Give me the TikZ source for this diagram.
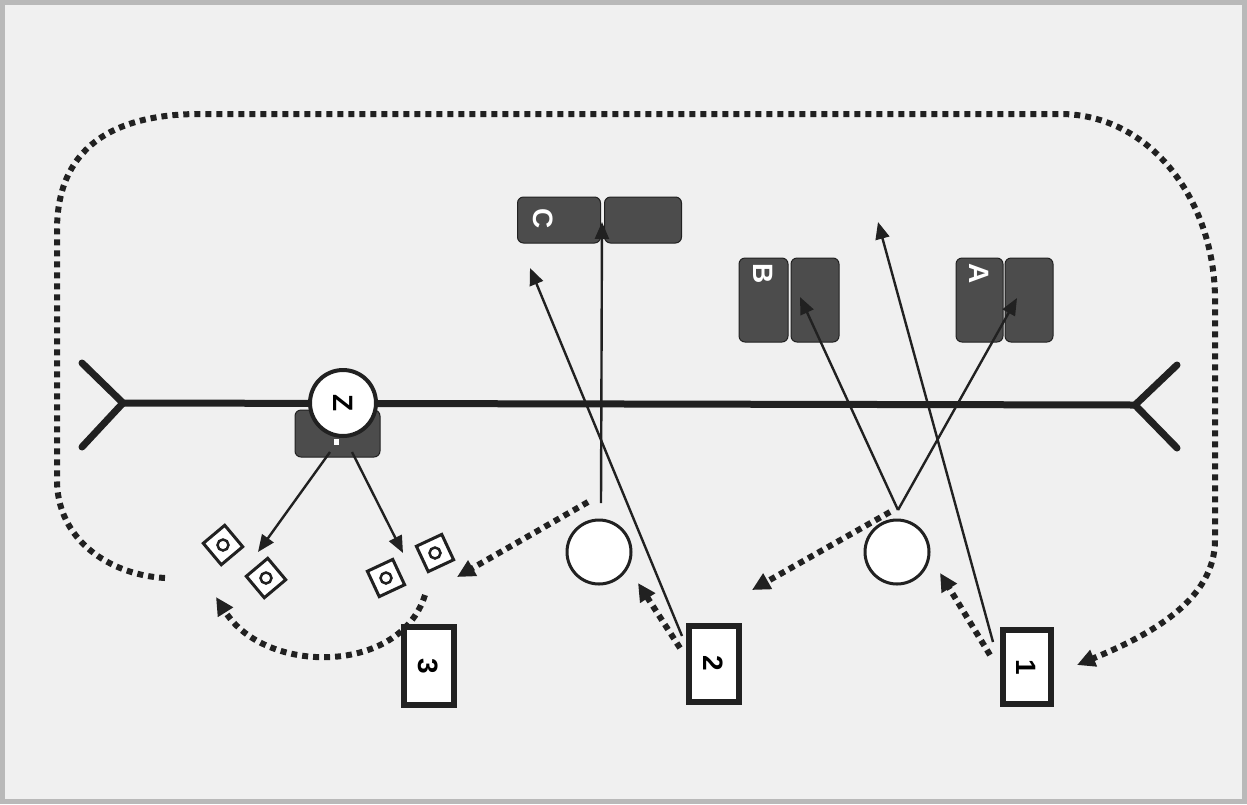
\documentclass[tikz,border=0pt]{standalone}
\usepackage{fontspec}
\setmainfont{Liberation Sans}
\usetikzlibrary{arrows.meta,calc}
\definecolor{ink}{gray}{0.13}
\definecolor{paper}{gray}{0.94}
\definecolor{darkfill}{gray}{0.30}
\begin{document}
\begin{tikzpicture}[x=1pt,y=-1pt,
  lab/.style={font=\fontsize{28}{28}\selectfont\bfseries, inner sep=0pt, rotate=-90},
  darkbox/.style={fill=darkfill, draw=ink, line width=1pt, rounded corners=6pt, inner sep=0pt},
  numbox/.style={draw=ink, line width=6pt, fill=white, minimum width=46pt, minimum height=72pt, inner sep=0pt},
  ring/.style={circle, draw=ink, line width=3pt, fill=white, minimum size=64pt, inner sep=0pt},
  tile/.style={draw=ink, line width=3pt, fill=white, minimum size=28pt, inner sep=0pt},
  tilering/.style={circle, draw=ink, line width=2.5pt, minimum size=11pt, inner sep=0pt},
  axis/.style={draw=ink, line width=7pt, line cap=round},
  solidarrow/.style={draw=ink, line width=2.4pt, -{Triangle[length=17pt,width=14pt]}},
  dotarrow/.style={draw=ink, line width=6pt, dash pattern=on 6pt off 5pt, -{Triangle[length=18pt,width=17pt]}},
]
% background and frame
\fill[paper] (0,0) rectangle (1247,804);
\draw[gray!55, line width=5pt] (2.5,2.5) rectangle (1244.5,801.5);

% big dotted loop
\coordinate (loopS) at (165,578);
\coordinate (loopE) at (1077,665);
\draw[dotarrow] (loopS) .. controls (110,575) and (57,540) .. (57,480)
  -- (57,230) .. controls (57,150) and (110,114) .. (200,114)
  -- (1060,114) .. controls (1150,114) and (1215,200) .. (1215,300)
  -- (1215,540) .. controls (1215,600) and (1150,635) .. (loopE);

% main axis with forks
\coordinate (fL) at (123,403);
\coordinate (fR) at (1135,405);
\coordinate (fLt) at (82,363);
\coordinate (fLb) at (82,447);
\coordinate (fRt) at (1177,365);
\coordinate (fRb) at (1177,448);
\draw[axis] (fL) -- (fR);
\draw[axis] (fLt) -- (fL) -- (fLb);
\draw[axis] (fRt) -- (fR) -- (fRb);

% dark boxes
\node[darkbox, minimum width=83pt, minimum height=46pt] (Cl) at (559,220) {};
\node[darkbox, minimum width=77pt, minimum height=46pt] (Cr) at (643,220) {};
\node[darkbox, minimum width=49pt, minimum height=84pt] (Bl) at (763.5,300) {};
\node[darkbox, minimum width=48pt, minimum height=84pt] (Br) at (815,300) {};
\node[darkbox, minimum width=47pt, minimum height=84pt] (Al) at (979.5,300) {};
\node[darkbox, minimum width=48pt, minimum height=84pt] (Ar) at (1029,300) {};
\node[lab, white] (Clab) at (543,219) {C};
\node[lab, white] (Blab) at (763,274) {B};
\node[lab, white] (Alab) at (979,274) {A};

% Z with its box
\node[darkbox, minimum width=85pt, minimum height=47pt] (Zbox) at (337.5,433.5) {};
\node[fill=white, minimum width=5pt, minimum height=6pt, inner sep=0pt] (Zmark) at (336,442) {};
\node[ring, line width=4pt, minimum size=66pt] (Z) at (343,403) {};
\node[lab] (Zlab) at (Z.center) {Z};

% circles
\node[ring] (c1) at (897,552) {};
\node[ring] (c2) at (599,552) {};

% numbered boxes
\node[numbox, minimum width=48pt, minimum height=74pt] (b1) at (1026.5,667) {};
\node[numbox, minimum width=50pt, minimum height=76pt] (b2) at (713.5,663.5) {};
\node[numbox, minimum width=50pt, minimum height=78pt] (b3) at (428.5,666) {};
\node[lab] (l1) at (b1.center) {1};
\node[lab] (l2) at (b2.center) {2};
\node[lab] (l3) at (b3.center) {3};

% tiles
\node[tile, rotate=40] (s1) at (223,545) {};
\node[tilering] (s1c) at (s1.center) {};
\node[tile, rotate=40] (s2) at (266,578) {};
\node[tilering] (s2c) at (s2.center) {};
\node[tile, rotate=25] (s3) at (386,578) {};
\node[tilering] (s3c) at (s3.center) {};
\node[tile, rotate=25] (s4) at (435,553) {};
\node[tilering] (s4c) at (s4.center) {};

% solid arrows
\coordinate (b1s) at (993,642);
\coordinate (t1) at (878,222);
\coordinate (b2s) at (682,636);
\coordinate (t2) at (530,268);
\coordinate (c2s) at (601,503);
\coordinate (tC) at (602,222);
\coordinate (c1s) at (898,510);
\coordinate (tB) at (800,297);
\coordinate (tA) at (1017,298);
\coordinate (zL) at (330,452);
\coordinate (zR) at (352,452);
\coordinate (tS1) at (258,552);
\coordinate (tS3) at (403,553);
\draw[solidarrow] (b1s) -- (t1);
\draw[solidarrow] (b2s) -- (t2);
\draw[solidarrow] (c2s) -- (tC);
\draw[solidarrow] (c1s) -- (tB);
\draw[solidarrow] (c1s) -- (tA);
\draw[solidarrow] (zL) -- (tS1);
\draw[solidarrow] (zR) -- (tS3);

% dotted arrows
\coordinate (d1s) at (890,512);
\coordinate (d1e) at (752,590);
\coordinate (d2s) at (588,502);
\coordinate (d2e) at (457,577);
\coordinate (d3s) at (990,655);
\coordinate (d3e) at (940,573);
\coordinate (d4s) at (680,648);
\coordinate (d4e) at (638,583);
\coordinate (d5s) at (425,595);
\coordinate (d5e) at (216,597);
\draw[dotarrow] (d1s) -- (d1e);
\draw[dotarrow] (d2s) -- (d2e);
\draw[dotarrow] (d3s) -- (d3e);
\draw[dotarrow] (d4s) -- (d4e);
\draw[dotarrow] (d5s) .. controls (400,675) and (265,675) .. (d5e);
\end{tikzpicture}
\end{document}
